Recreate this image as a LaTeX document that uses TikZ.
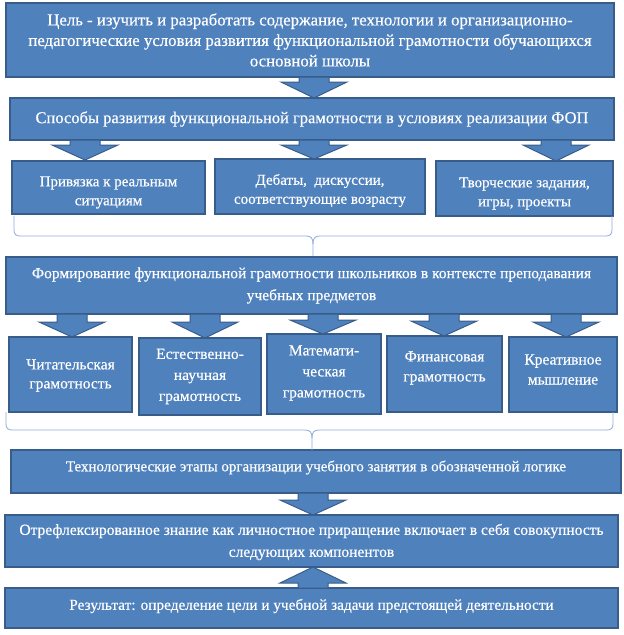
\documentclass[tikz,border=0pt]{standalone}
\usepackage{fontspec}
\setmainfont{Liberation Serif}
\newfontfamily\tnr{Liberation Serif}[FakeBold=0.4]
\definecolor{bfill}{HTML}{4F81BD}
\definecolor{bline}{HTML}{385D8A}
\definecolor{brace}{HTML}{8EAADB}
\tikzset{
  box/.style={draw=bline, line width=1.6pt, fill=bfill, inner sep=0pt, text=white, align=center},
  blockarr/.style={draw=bline, line width=1pt, fill=bfill},
  bracel/.style={draw=brace, line width=0.8pt}
}
% box: name, x1, y1, x2, y2, font size, baselineskip, text (text shift in #9)
\newcommand{\bx}[9]{%
  \pgfmathsetmacro{\bw}{#4-#2}\pgfmathsetmacro{\bh}{#5-#3}%
  \node[box, minimum width=\bw pt, minimum height=\bh pt] (#1) at ({(#2+#4)/2},{(#3+#5)/2}) {};
  \node[text=white, align=center, inner sep=0pt, font=\tnr\fontsize{#6}{#7}\selectfont] at ($(#1.center)+(0,#9)$) {#8};}
% down block arrow: center x, top y, head start y, tip y
\newcommand{\darr}[4]{\draw[blockarr] (#1-15,#2) -- (#1+15,#2) -- (#1+15,#3) -- (#1+33,#3) -- (#1,#4) -- (#1-33,#3) -- (#1-15,#3) -- cycle;}
\usetikzlibrary{calc}
\begin{document}
\begin{tikzpicture}[x=1pt,y=-1pt]
\useasboundingbox (0,0) rectangle (624,635);
% boxes
\bx{b1}{6}{3}{614}{77}{16.8}{20.5}{Цель - изучить и разработать содержание, технологии и организационно-\\педагогические условия развития функциональной грамотности обучающихся\\основной школы}{0}
\bx{b2}{10}{98}{614}{140}{16.5}{20}{Способы развития функциональной грамотности в условиях реализации ФОП}{0}
\bx{r1}{12}{161}{205}{214}{15}{19}{Привязка к реальным\\ситуациям}{5}
\bx{r2}{215}{159}{425}{214}{15}{19}{Дебаты,\ \ дискуссии,\\соответствующие возрасту}{4}
\bx{r3}{436}{161}{613}{216}{15}{19}{Творческие задания,\\игры, проекты}{5}
\bx{b4}{6}{257}{617}{314}{15.5}{22}{Формирование функциональной грамотности школьников в контексте преподавания\\учебных предметов}{0}
\bx{c1}{9}{337}{132}{412}{15.5}{19}{Читательская\\грамотность}{1}
\bx{c2}{139}{338}{261}{415}{15.5}{21}{Естественно-\\научная\\грамотность}{0}
\bx{c3}{267}{334}{381}{414}{15.5}{21}{Математи-\\ческая\\грамотность}{-1}
\bx{c4}{387}{336}{502}{412}{15.5}{20}{Финансовая\\грамотность}{-6}
\bx{c5}{509}{337}{617}{412}{15.5}{20}{Креативное\\мышление}{-5}
\bx{b6}{11}{450}{621}{493}{15}{18}{Технологические этапы организации учебного занятия в обозначенной логике}{-4}
\bx{b7}{5}{515}{618}{567}{15.5}{22}{Отрефлексированное знание как личностное приращение включает в себя совокупность\\следующих компонентов}{1}
\bx{b8}{5}{588}{618}{628}{15.3}{18}{Результат: определение цели и учебной задачи предстоящей деятельности}{-2}
% block arrows
\darr{314}{77}{82}{98}
\darr{85}{140}{145}{160}
\darr{314}{140}{145}{159}
\darr{556}{140}{145}{161}
\darr{72}{314}{322}{337}
\darr{205}{314}{322}{338}
\darr{323}{314}{320}{334}
\darr{444}{314}{321}{336}
\darr{566}{314}{322}{337}
\darr{313}{493}{500}{515}
\draw[blockarr] (298,588) -- (328,588) -- (328,583) -- (346,583) -- (313,567) -- (280,583) -- (298,583) -- cycle;
% braces
\draw[bracel] (14,216) -- (14,230) .. controls (14,234) and (16,236) .. (20,236) -- (306,236) .. controls (311,236) and (313,238) .. (313,244) -- (313,256);
\draw[bracel] (612,216) -- (612,230) .. controls (612,234) and (610,236) .. (606,236) -- (320,236) .. controls (315,236) and (313,238) .. (313,244);
\draw[bracel] (6,412) -- (6,424) .. controls (6,428) and (8,430) .. (12,430) -- (305,430) .. controls (310,430) and (312,432) .. (312,438) -- (312,450);
\draw[bracel] (613,412) -- (613,424) .. controls (613,428) and (611,430) .. (607,430) -- (319,430) .. controls (314,430) and (312,432) .. (312,438);
\end{tikzpicture}
\end{document}
